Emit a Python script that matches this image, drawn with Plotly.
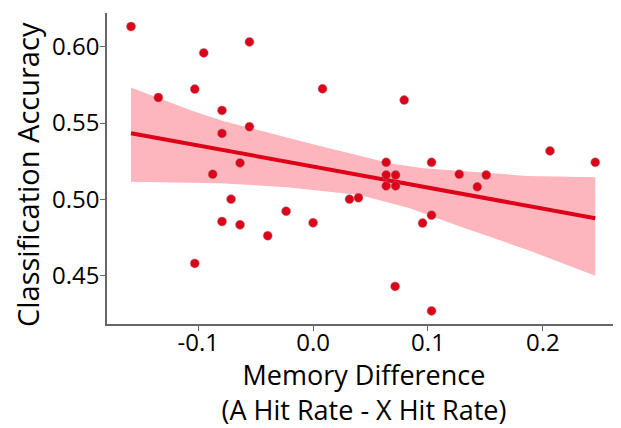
import numpy as np
import plotly.graph_objects as go

# Data points
mem_diff = [-0.1585, -0.0952, -0.0554, -0.1030, -0.1347, 0.0082, -0.0793, -0.0554,
            -0.0793, -0.0636, -0.0874, -0.0714, -0.0235, -0.0793, -0.0636, -0.0395,
            0.0000, -0.1030, 0.0317, 0.0395, 0.0793, 0.0636, 0.0636, 0.0718,
            0.0636, 0.0718, 0.1031, 0.1272, 0.1507, 0.1429, 0.2062, 0.2456,
            0.0953, 0.1031, 0.0714, 0.1031]
accuracy = [0.6134, 0.5961, 0.6033, 0.5723, 0.5668, 0.5725, 0.5583, 0.5476,
            0.5432, 0.5238, 0.5164, 0.5000, 0.4921, 0.4853, 0.4832, 0.4760,
            0.4845, 0.4578, 0.5000, 0.5009, 0.5651, 0.5242, 0.5159, 0.5159,
            0.5087, 0.5087, 0.5242, 0.5164, 0.5159, 0.5081, 0.5317, 0.5242,
            0.4843, 0.4895, 0.4427, 0.4266]

# Confidence band edges
upper_x = [-0.1585, -0.1072, -0.0784, -0.0493, -0.0203, 0.0087, 0.0378, 0.0668,
           0.0958, 0.1190, 0.1565, 0.1860, 0.2456]
upper_y = [0.5734, 0.5585, 0.5513, 0.5454, 0.5400, 0.5345, 0.5290, 0.5236,
           0.5203, 0.5192, 0.5170, 0.5153, 0.5144]
lower_x = [-0.1585, -0.0813, -0.0230, 0.0407, 0.0843, 0.1278, 0.1862, 0.2456]
lower_y = [0.5115, 0.5105, 0.5079, 0.5028, 0.4941, 0.4820, 0.4668, 0.4497]

x_ticks = [-0.1, 0.0, 0.1, 0.2]
x_tick_text = ["-0.1", "0.0", "0.1", "0.2"]
y_ticks = [0.45, 0.50, 0.55, 0.60]
y_tick_text = ["0.45", "0.50", "0.55", "0.60"]

x_title = "Memory Difference<br>(A Hit Rate - X Hit Rate)"
y_title = "Classification Accuracy"

# Linear fit
slope, intercept = np.polyfit(mem_diff, accuracy, 1)
fit_x = np.array([min(mem_diff), max(mem_diff)])
fit_y = slope * fit_x + intercept

RED = "#dd0018"
FONT = "Open Sans"

fig = go.Figure()
fig.add_trace(go.Scatter(x=upper_x + lower_x[::-1], y=upper_y + lower_y[::-1],
                         fill="toself", fillcolor="#fdb6bd", line=dict(width=0),
                         mode="lines", hoverinfo="skip", showlegend=False))
fig.add_trace(go.Scatter(x=fit_x, y=fit_y, mode="lines",
                         line=dict(color=RED, width=4), showlegend=False))
fig.add_trace(go.Scatter(x=mem_diff, y=accuracy, mode="markers",
                         marker=dict(color=RED, size=9, line=dict(color="#9a8a8a", width=0.5)),
                         showlegend=False))

fig.update_layout(
    width=613, height=420,
    margin=dict(l=99, r=0, t=5, b=104),
    paper_bgcolor="white", plot_bgcolor="white",
    font=dict(family=FONT, color="black"),
    xaxis=dict(range=[-0.1794, 0.268], tickvals=x_ticks, ticktext=x_tick_text,
               automargin=False,
               showgrid=False, zeroline=False, showline=True, linecolor="#666",
               linewidth=1.5, ticks="outside", ticklen=5, tickcolor="#666",
               ticklabelstandoff=-9,
               tickfont=dict(size=24, family=FONT),
               title=dict(text=x_title, font=dict(size=27, family=FONT), standoff=2)),
    yaxis=dict(range=[0.418, 0.6223], tickvals=y_ticks, ticktext=y_tick_text,
               automargin=False,
               showgrid=False, zeroline=False, showline=True, linecolor="#666",
               linewidth=1.5, ticks="outside", ticklen=5, tickcolor="#666",
               ticklabelstandoff=-4,
               tickfont=dict(size=24, family=FONT)),
    annotations=[dict(text=y_title, textangle=-90, xref="paper", yref="paper",
                      x=-0.1556, y=0.479, xanchor="center", yanchor="middle",
                      showarrow=False, font=dict(size=29, family=FONT, color="black"))],
)

fig.write_html("out.html")
